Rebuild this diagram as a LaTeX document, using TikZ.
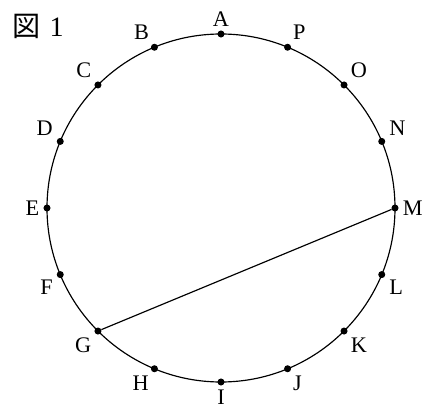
\documentclass[tikz,border=0pt]{standalone}
\usepackage{fontspec}
\setmainfont{Liberation Serif}
\newfontfamily\cjk{Noto Sans CJK JP}
\usetikzlibrary{calc}
\begin{document}
\begin{tikzpicture}[x = 0.03cm, y = 0.03cm, font = \fontsize{19}{21}\selectfont,
  dot/.style = {circle, fill, inner sep = 0pt, minimum size = 6pt}]
\useasboundingbox (0,0) rectangle (442,412);
\node[anchor = west, font = \fontsize{24}{26}\selectfont] (title) at (8,386) {{\cjk 図}\,\,1};
\draw[line width = 1pt] (221,204) circle [radius = 174];
\foreach \name [count = \i from 0] in {A,B,C,D,E,F,G,H,I,J,K,L,M,N,O,P} {
  \pgfmathsetmacro{\ang}{90 + 22.5*\i}
  \node[dot, label = {[label distance = 0pt]\ang:\name}] (\name) at ($(221,204) + (\ang:174)$) {};
}
\draw[line width = 1pt] (G) -- (M);
\end{tikzpicture}
\end{document}
